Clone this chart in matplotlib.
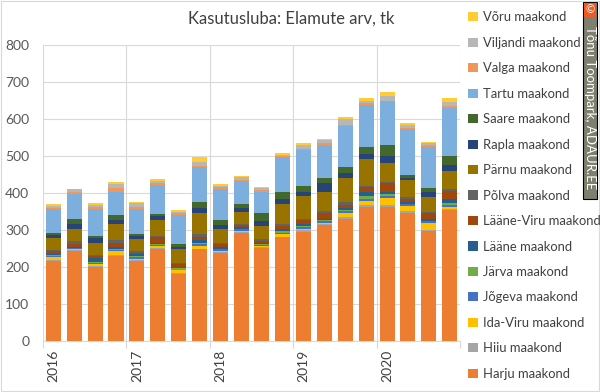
import matplotlib.pyplot as plt
import numpy as np
from matplotlib.patches import Rectangle

plt.rcParams['font.family'] = ['Lato', 'DejaVu Sans']

years = ['2016', '2017', '2018', '2019', '2020']

harju = [217, 244, 201, 231, 215, 249, 181, 248, 239, 293, 251, 280, 295, 313, 331, 363, 363, 347, 296, 354]
hiiu = [2, 1, 2, 2, 5, 3, 3, 2, 1, 1, 2, 1, 4, 2, 4, 4, 4, 4, 3, 2]
ida_viru = [7, 3, 5, 10, 2, 5, 7, 7, 4, 4, 5, 7, 3, 5, 11, 11, 20, 14, 20, 7]
jogeva = [3, 3, 3, 3, 4, 3, 2, 5, 5, 5, 2, 3, 5, 4, 5, 6, 5, 4, 4, 4]
jarva = [3, 1, 2, 4, 5, 1, 3, 3, 1, 1, 2, 5, 5, 2, 4, 9, 5, 1, 1, 5]
laane = [3, 3, 12, 5, 3, 5, 2, 7, 5, 3, 4, 7, 5, 5, 4, 10, 5, 7, 5, 11]
laane_viru = [7, 8, 5, 10, 5, 14, 11, 9, 7, 7, 5, 9, 11, 16, 9, 12, 25, 7, 16, 22]
polva = [4, 6, 3, 7, 5, 3, 2, 7, 4, 3, 5, 5, 2, 5, 9, 4, 4, 5, 4, 5]
parnu = [32, 35, 31, 45, 32, 45, 38, 58, 38, 32, 34, 54, 61, 52, 63, 72, 49, 45, 40, 50]
rapla = [8, 12, 14, 11, 7, 9, 5, 13, 9, 11, 13, 13, 11, 23, 13, 14, 20, 7, 13, 16]
saare = [7, 13, 6, 12, 7, 5, 7, 18, 14, 11, 22, 20, 16, 14, 16, 18, 29, 9, 11, 23]
tartu = [63, 68, 73, 64, 68, 80, 79, 93, 83, 61, 59, 92, 99, 88, 112, 115, 119, 123, 112, 131]
valga = [4, 6, 4, 9, 4, 5, 5, 4, 5, 4, 5, 4, 3, 5, 4, 4, 2, 2, 4, 4]
viljandi = [6, 7, 6, 12, 10, 6, 4, 11, 4, 7, 4, 4, 10, 9, 16, 8, 13, 9, 5, 11]
voru = [4, 1, 5, 5, 4, 4, 4, 13, 4, 4, 4, 4, 4, 4, 5, 6, 9, 4, 4, 13]

series = [
    ('Harju maakond', harju, '#ED7D31'),
    ('Hiiu maakond', hiiu, '#A5A5A5'),
    ('Ida-Viru maakond', ida_viru, '#FFC000'),
    ('Jõgeva maakond', jogeva, '#4472C4'),
    ('Järva maakond', jarva, '#70AD47'),
    ('Lääne maakond', laane, '#255E91'),
    ('Lääne-Viru maakond', laane_viru, '#9E480E'),
    ('Põlva maakond', polva, '#636363'),
    ('Pärnu maakond', parnu, '#997300'),
    ('Rapla maakond', rapla, '#264478'),
    ('Saare maakond', saare, '#43682B'),
    ('Tartu maakond', tartu, '#7CAFDD'),
    ('Valga maakond', valga, '#F1975A'),
    ('Viljandi maakond', viljandi, '#B7B7B7'),
    ('Võru maakond', voru, '#FFCD33'),
]

fig = plt.figure(figsize=(6, 3.92), dpi=100)
ax = fig.add_axes([0.0717, 0.1301, 0.695, 0.7551])

x = np.arange(len(harju))
bottom = np.zeros(len(harju))
handles = []
for name, vals, color in series:
    b = ax.bar(x, vals, bottom=bottom, width=0.72, color=color, label=name, zorder=3)
    handles.append(b)
    bottom += np.array(vals)

ax.set_xlim(-0.5, len(harju) - 0.5)
ax.set_ylim(0, 800)
ax.set_yticks(range(0, 801, 100))
ax.tick_params(axis='y', length=0, pad=10, labelsize=10, labelcolor='#595959')
ax.grid(axis='y', color='#D9D9D9', lw=0.8, zorder=0)

ax.set_xticks(np.arange(0, 20, 4))
ax.set_xticklabels(years, rotation=90, fontsize=10, color='#404040')
ax.tick_params(axis='x', length=0, pad=6)
ax.set_xticks(np.arange(-0.5, 20, 4), minor=True)
ax.tick_params(axis='x', which='minor', length=5, color='#D9D9D9', width=0.8)
for b in np.arange(-0.5, 20, 4):
    ax.axvline(b, color='#D9D9D9', lw=0.8, zorder=0)

for s in ['top', 'left', 'right']:
    ax.spines[s].set_visible(False)
ax.spines['bottom'].set_color('#D9D9D9')

fig.text(0.485, 0.952, 'Kasutusluba: Elamute arv, tk', ha='center', va='center',
         fontsize=12, color='#404040')

leg = fig.legend(handles[::-1], [s[0] for s in series][::-1], loc='upper left',
                 bbox_to_anchor=(0.772, 0.984), frameon=False, fontsize=9.4,
                 handlelength=0.7, handleheight=0.7, handletextpad=0.4,
                 labelspacing=1.03, borderaxespad=0)
for t in leg.get_texts():
    t.set_color('#404040')

# watermark strip
fig.patches.append(Rectangle((583 / 600, 1 - 199 / 392), 14 / 600, 197 / 392,
                             transform=fig.transFigure, facecolor='#7F7F6F',
                             edgecolor='black', lw=0.8))
fig.patches.append(Rectangle((584 / 600, 1 - 17 / 392), 12 / 600, 14 / 392,
                             transform=fig.transFigure, facecolor='#F05A22',
                             edgecolor='none'))
fig.text(590 / 600, 1 - 10 / 392, '©', ha='center', va='center', color='white', fontsize=8)
fig.text(590.5 / 600, 1 - 108 / 392, 'Tõnu Toompark, ADAUR.EE', rotation=-90,
         ha='center', va='center', color='white', fontsize=9.5)

fig.patches.append(Rectangle((0.001, 0.002), 0.997, 0.995, transform=fig.transFigure,
                             facecolor='none', edgecolor='#D9D9D9', lw=0.8))

fig.savefig('out.png', dpi=100)
